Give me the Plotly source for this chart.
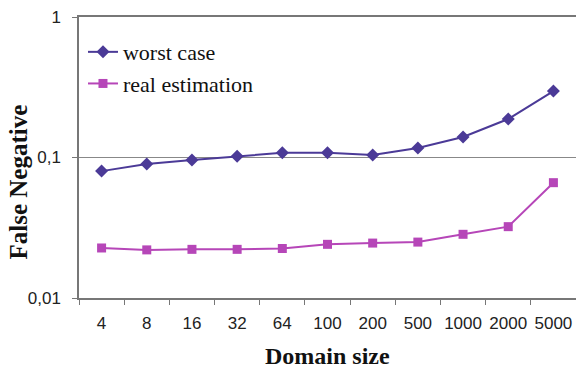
import plotly.graph_objects as go

categories = ["4", "8", "16", "32", "64", "100", "200", "500", "1000", "2000", "5000"]
worst_case = [0.080, 0.090, 0.096, 0.102, 0.108, 0.108, 0.104, 0.117, 0.140, 0.188, 0.297]
real_estimation = [0.0227, 0.0220, 0.0222, 0.0222, 0.0225, 0.0241, 0.0246, 0.0250, 0.0284, 0.0322, 0.0662]
y_tickvals = [0.01, 0.1, 1]
y_ticktext = ["0,01", "0,1", "1"]

fig = go.Figure()
fig.add_trace(go.Scatter(
    x=categories, y=worst_case, name="worst case", mode="lines+markers",
    legendgroup="a",
    line=dict(color="#4B3A97", width=2),
    marker=dict(symbol="diamond", size=10, color="#4B3A97"),
))
fig.add_trace(go.Scatter(
    x=categories, y=real_estimation, name="real estimation", mode="lines+markers",
    legendgroup="b",
    line=dict(color="#B646B8", width=2),
    marker=dict(symbol="square", size=9, color="#B646B8"),
))

fig.update_layout(
    width=576, height=369,
    margin=dict(l=79, r=0, t=17, b=71, autoexpand=False),
    paper_bgcolor="white", plot_bgcolor="white",
    showlegend=True,
    legend=dict(x=0.008, y=0.95, xanchor="left", yanchor="top",
                font=dict(family="Liberation Serif", size=22, color="#111"),
                bgcolor="rgba(0,0,0,0)", itemwidth=30, tracegroupgap=0),
    xaxis=dict(
        type="category", tickson="boundaries", ticks="outside", ticklen=5,
        tickcolor="#777", showline=True, linecolor="#777", linewidth=1.5, mirror=True,
        showgrid=False, automargin=False, tickangle=0, ticklabelstandoff=9,
        tickfont=dict(family="Liberation Sans", size=17, color="#222"),
        range=[-0.5, 10.5],
    ),
    yaxis=dict(
        type="log", range=[-2, 0], tickvals=y_tickvals, ticktext=y_ticktext,
        ticks="outside", ticklen=5, tickcolor="#777", automargin=False,
        showline=True, linecolor="#777", linewidth=1.5, mirror=True,
        showgrid=True, gridcolor="#888", gridwidth=1,
        ticklabelstandoff=8,
        tickfont=dict(family="Liberation Sans", size=17, color="#222"),
    ),
    annotations=[
        dict(text="<b>Domain size</b>", x=0.5, y=0.0, xref="paper", yref="paper",
             xanchor="center", yanchor="middle", showarrow=False, yshift=-58,
             font=dict(family="Liberation Serif", size=24, color="#111")),
        dict(text="<b>False Negative</b>", x=0, y=0.5, xref="paper", yref="paper",
             xanchor="center", yanchor="middle", showarrow=False, textangle=-90,
             xshift=-61, yshift=-25,
             font=dict(family="Liberation Serif", size=25, color="#111")),
    ],
)

fig.write_html("out.html", config={"displayModeBar": False},
               post_script="document.body.style.margin='0';document.body.style.padding='0';")
